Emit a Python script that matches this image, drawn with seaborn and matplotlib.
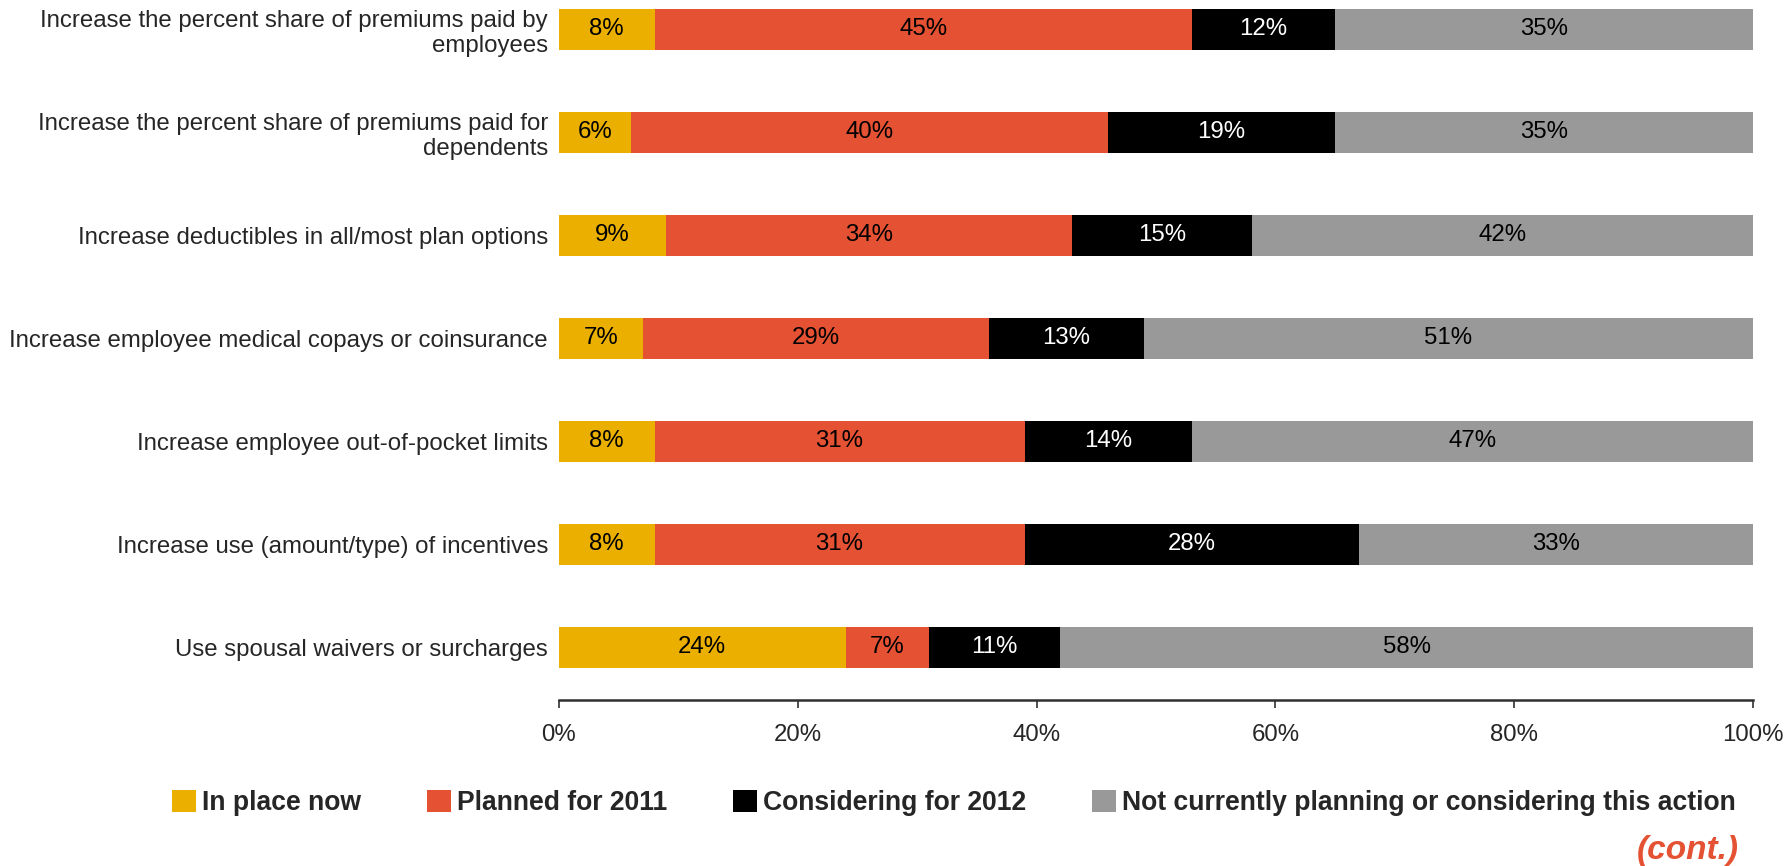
import matplotlib
matplotlib.use("Agg")
import matplotlib.pyplot as plt
from matplotlib.patches import Patch
import seaborn as sns
import numpy as np
import pandas as pd

categories = [
    "Increase the percent share of premiums paid by\nemployees",
    "Increase the percent share of premiums paid for\ndependents",
    "Increase deductibles in all/most plan options",
    "Increase employee medical copays or coinsurance",
    "Increase employee out-of-pocket limits",
    "Increase use (amount/type) of incentives",
    "Use spousal waivers or surcharges",
]
series_names = ["In place now", "Planned for 2011", "Considering for 2012",
                "Not currently planning or considering this action"]
in_place = [8, 6, 9, 7, 8, 8, 24]
planned_2011 = [45, 40, 34, 29, 31, 31, 7]
considering_2012 = [12, 19, 15, 13, 14, 28, 11]
not_planning = [35, 35, 42, 51, 47, 33, 58]
x_ticks = [0, 20, 40, 60, 80, 100]
x_ticklabels = ["0%", "20%", "40%", "60%", "80%", "100%"]

colors = ["#EBAF00", "#E55133", "#000000", "#999999"]
text_colors = ["black", "black", "white", "black"]

sns.set_theme(style="white")
plt.rcParams["font.family"] = ["Liberation Sans", "DejaVu Sans"]

fig = plt.figure(figsize=(17.89, 8.66), dpi=100)
ax = fig.add_axes([559 / 1789, 166 / 866, 1194 / 1789, 700 / 866])

series = [in_place, planned_2011, considering_2012, not_planning]
cum = np.cumsum(np.array(series), axis=0)
# draw from the largest cumulative to the smallest so each stack segment shows
for i in range(len(series) - 1, -1, -1):
    df = pd.DataFrame({"cat": categories, "val": cum[i]})
    sns.barplot(data=df, x="val", y="cat", orient="h", color=colors[i],
                width=0.4, saturation=1, ax=ax, linewidth=0, order=categories)

fs = 17.3
for i in range(len(series)):
    starts = cum[i] - np.array(series[i])
    for j, v in enumerate(series[i]):
        ax.text(starts[j] + v / 2, j, f"{v}%", ha="center", va="center",
                fontsize=fs, color=text_colors[i])

ax.set_xlim(0, 100)
ax.set_ylim(6.51, -0.286)
ax.set_xlabel("")
ax.set_ylabel("")
ax.set_xticks(x_ticks)
ax.set_xticklabels(x_ticklabels, fontsize=fs)
ax.tick_params(axis="x", direction="out", length=6, width=1.2, color="#303030",
               pad=11.5, bottom=True)
ax.tick_params(axis="y", length=0, pad=8, labelsize=fs)
for lab in ax.get_yticklabels():
    lab.set_horizontalalignment("right")
    lab.set_multialignment("right")
for s in ["top", "right", "left"]:
    ax.spines[s].set_visible(False)
ax.spines["bottom"].set_color("#303030")
ax.spines["bottom"].set_linewidth(1.8)
ax.grid(False)

lfs = 19.1
em = lfs / 0.72
handles = [Patch(facecolor=c, edgecolor="none") for c in colors]
fig.legend(handles, series_names, loc="center left",
           bbox_to_anchor=(172 / 1789, 1 - 803 / 866),
           ncol=4, frameon=False, prop={"weight": "bold", "size": lfs},
           handlelength=24 / em, handleheight=23 / em, handletextpad=6 / em,
           columnspacing=66 / em, borderpad=0, borderaxespad=0)

fig.text(1739 / 1789, 1 - 851 / 866, "(cont.)", ha="right", va="center",
         fontsize=24, fontweight="bold", fontstyle="italic", color="#E55133")

fig.savefig("out.png", dpi=100)
